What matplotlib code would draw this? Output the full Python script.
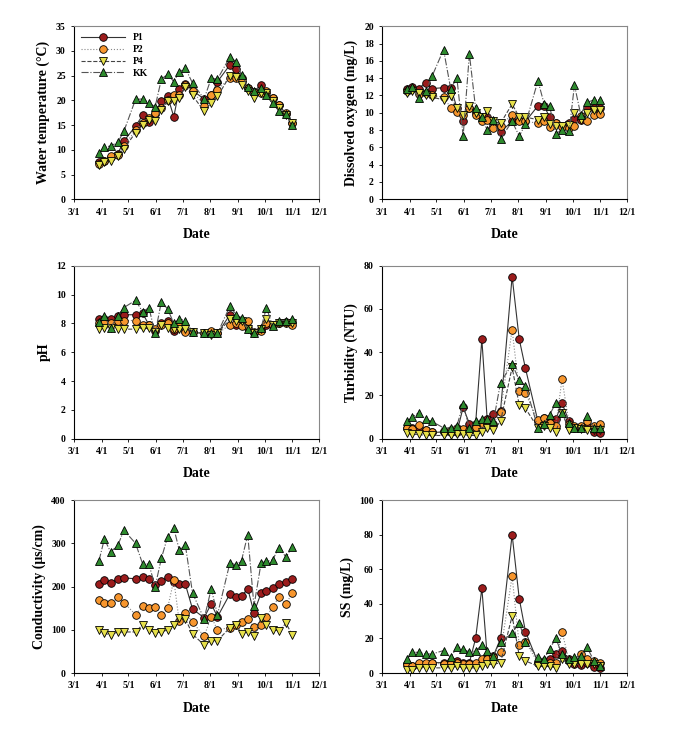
import datetime as dt
import numpy as np
import matplotlib
matplotlib.use("Agg")
import matplotlib.pyplot as plt
import matplotlib.dates as mdates

plt.rcParams['font.family'] = ['Liberation Serif', 'DejaVu Serif']
plt.rcParams['font.weight'] = 'bold'

# sampling dates (month, day)
dates_md = [(3, 29), (4, 4), (4, 11), (4, 19), (4, 26), (5, 9), (5, 17), (5, 24), (5, 31),
            (6, 7), (6, 14), (6, 21), (6, 27), (7, 4), (7, 12), (7, 25), (8, 2), (8, 9),
            (8, 23), (8, 30), (9, 5), (9, 12), (9, 19), (9, 27), (10, 3), (10, 10),
            (10, 17), (10, 25), (11, 1)]
dates = [dt.date(2011, m, d) for m, d in dates_md]

sites = ['P1', 'P2', 'P4', 'KK']

# water temperature
temp_p1 = [7.5, 7.8, 8.5, 9.2, 11.8, 14.8, 17.0, 15.7, 17.3, 19.8, 20.8, 16.7, 22.3, 23.3, 22.0,
           20.3, 21.0, 23.8, 27.2, 26.3, 24.5, 22.5, 21.8, 23.2, 21.5, 20.5, 19.0, 17.3, 15.5]
temp_p2 = [7.2, 7.8, 8.7, 9.0, 10.8, 14.0, 15.5, 16.5, 17.5, 18.5, 20.0, 21.0, 21.0, 23.2, 22.0,
           18.8, 21.0, 22.2, 24.5, 24.5, 24.0, 22.5, 21.8, 21.5, 22.0, 20.5, 19.0, 17.5, 15.5]
temp_p4 = [7.0, 7.5, 7.8, 8.8, 10.2, 13.5, 15.0, 16.0, 15.8, 18.0, 19.8, 19.8, 20.5, 22.8, 21.0,
           17.8, 19.5, 20.8, 25.0, 24.8, 23.2, 22.0, 20.5, 21.5, 21.5, 19.8, 18.5, 17.0, 15.5]
temp_kk = [9.3, 10.5, 10.8, 11.5, 13.8, 20.2, 20.3, 19.5, 18.7, 24.3, 25.3, 23.8, 25.8, 26.5, 23.5,
           20.3, 24.5, 24.3, 28.8, 27.8, 25.2, 22.8, 22.0, 22.5, 21.0, 19.5, 17.8, 17.3, 15.0]

# dissolved oxygen
do_p1 = [12.8, 13.0, 12.8, 13.5, 12.8, 12.9, 12.9, 10.6, 9.1, 10.5, 10.0, 9.5, 9.5, 8.5, 7.8,
         9.0, 9.2, 9.0, 10.8, 10.8, 9.5, 8.8, 8.5, 8.8, 9.3, 9.2, 10.5, 10.6, 10.6]
do_p2 = [12.5, 12.8, 12.2, 12.3, 12.0, 11.8, 10.6, 10.1, 9.8, 10.5, 9.8, 9.0, 9.2, 8.2, 8.5,
         9.8, 9.0, 9.0, 8.8, 9.0, 8.3, 8.8, 8.3, 8.2, 8.5, 9.6, 9.0, 9.8, 9.9]
do_p4 = [12.3, 12.5, 12.3, 12.0, 11.8, 11.5, 11.9, 10.5, 9.8, 10.8, 10.0, 9.5, 10.2, 9.0, 8.8,
         11.0, 9.5, 9.5, 9.2, 9.5, 8.7, 8.5, 8.5, 8.6, 10.0, 9.2, 10.0, 10.3, 10.3]
do_kk = [12.8, 13.0, 11.7, 12.5, 14.2, 17.3, 12.8, 14.0, 7.3, 16.8, 10.5, 9.5, 8.0, 9.2, 7.0,
         9.0, 7.3, 8.7, 13.7, 11.0, 10.8, 7.6, 8.0, 7.9, 13.2, 9.8, 11.2, 11.5, 11.5]

# pH
ph_p1 = [8.3, 8.3, 8.3, 8.5, 8.6, 8.6, 8.7, 7.9, 7.5, 8.0, 8.2, 7.5, 7.8, 7.5, 7.4,
         7.3, 7.4, 7.3, 8.6, 7.9, 8.0, 7.7, 7.3, 7.6, 7.9, 7.9, 8.0, 8.1, 8.1]
ph_p2 = [8.0, 8.0, 8.0, 8.2, 8.2, 8.2, 7.9, 7.9, 7.6, 7.9, 8.0, 7.6, 7.8, 7.4, 7.4,
         7.3, 7.5, 7.3, 7.9, 8.0, 7.8, 8.2, 7.4, 7.5, 8.0, 7.9, 8.0, 8.0, 7.9]
ph_p4 = [7.6, 7.7, 7.7, 7.6, 7.6, 7.6, 7.7, 7.7, 7.4, 7.9, 7.7, 7.6, 7.6, 7.6, 7.4,
         7.3, 7.2, 7.3, 8.3, 8.2, 8.2, 7.6, 7.3, 7.6, 8.3, 7.9, 8.0, 8.0, 8.0]
ph_kk = [8.1, 8.5, 7.7, 8.5, 9.1, 9.6, 8.8, 9.1, 7.3, 9.5, 9.0, 8.0, 8.3, 8.2, 7.4,
         7.3, 7.3, 7.3, 9.2, 8.6, 8.4, 7.6, 7.3, 7.7, 9.1, 7.8, 8.2, 8.2, 8.3]

# turbidity
tu_p1 = [5, 5, 5, 4, 3, 3, 3, 3, 14.5, 7, 7, 46, 9, 11.5, 13, 75, 46, 32.5, 8, 9.5,
         9, 9, 16.5, 8, 5, 5, 6, 3, 2.5]
tu_p2 = [5, 4.5, 6.5, 4, 3, 3.5, 4, 5, 4.5, 4, 5.5, 7.5, 7, 7, 12.5, 50.5, 22, 21, 8.5, 9.5,
         7.5, 6, 27.5, 7, 6, 6, 8, 6, 7]
tu_p4 = [2.5, 2, 2, 1.5, 1.5, 1.5, 1.5, 2, 2, 1.5, 1.5, 3, 5, 4, 8, 33, 15.5, 14, 5, 6,
         5, 3, 12, 4, 5, 4.5, 4, 4, 4]
tu_kk = [8, 10, 12, 9, 8, 5, 5, 6, 16, 5, 8, 9, 9, 8, 26, 34.5, 27, 24.5, 5, 7,
         11, 16.5, 12, 7.5, 5, 5, 10.5, 5, 5]

# conductivity
ec_p1 = [205, 215, 208, 218, 220, 218, 222, 218, 203, 213, 222, 210, 205, 205, 148,
         128, 160, 130, 183, 175, 178, 195, 140, 185, 190, 197, 205, 210, 218]
ec_p2 = [168, 162, 162, 175, 163, 135, 155, 150, 152, 135, 150, 215, 120, 140, 118,
         85, 130, 100, 105, 112, 118, 125, 107, 112, 130, 153, 175, 160, 185]
ec_p4 = [100, 92, 88, 95, 95, 95, 112, 100, 93, 95, 100, 110, 128, 125, 90,
         65, 75, 75, 105, 112, 90, 95, 85, 128, 110, 100, 98, 115, 88]
ec_kk = [260, 310, 280, 295, 330, 300, 252, 252, 200, 265, 315, 335, 285, 295, 185,
         125, 195, 135, 255, 250, 260, 320, 155, 255, 258, 262, 290, 268, 292]

# suspended solids
ss_p1 = [5, 4, 5, 5, 6, 6, 7, 7, 6, 6, 20, 49, 10, 10, 20, 80, 43, 24, 6, 7,
         8, 11, 13, 8, 5, 4.5, 6, 3.5, 3]
ss_p2 = [5, 4, 6, 6, 6, 5, 6, 6, 5, 5, 6, 8, 8, 9, 12, 56, 16, 18, 6, 6,
         6, 6, 24, 7, 7, 11, 8, 7, 6]
ss_p4 = [2, 2, 3, 3, 3, 3, 3, 4, 3, 3, 3, 4, 5, 5, 6, 33, 10, 7, 4, 4,
         4, 3, 8, 5, 5, 5, 5, 5, 4]
ss_kk = [8, 12, 12, 11, 11, 13, 9, 15, 14, 12, 13, 16, 13, 10, 18, 23, 29, 18, 9, 8,
         14, 20, 11, 8, 9, 10, 15, 7, 4]

panels = [
    ('Water temperature (\u00b0C)', 35, 5, [temp_p1, temp_p2, temp_p4, temp_kk]),
    ('Dissolved oxygen (mg/L)', 20, 2, [do_p1, do_p2, do_p4, do_kk]),
    ('pH', 12, 2, [ph_p1, ph_p2, ph_p4, ph_kk]),
    ('Turbidity (NTU)', 80, 20, [tu_p1, tu_p2, tu_p4, tu_kk]),
    ('Conductivity (\u03bcs/cm)', 400, 100, [ec_p1, ec_p2, ec_p4, ec_kk]),
    ('SS (mg/L)', 100, 20, [ss_p1, ss_p2, ss_p4, ss_kk]),
]

styles = {
    'P1': dict(color='#333333', ls='-', marker='o', mfc='#9b1c1c', ms=5.5),
    'P2': dict(color='#888888', ls=':', marker='o', mfc='#f7962e', ms=5.5),
    'P4': dict(color='#444444', ls='--', marker='v', mfc='#e6e04a', ms=5.5),
    'KK': dict(color='#555555', ls='-.', marker='^', mfc='#2e8b2e', ms=5.5),
}

fig = plt.figure(figsize=(6.86, 7.3), dpi=100)
lefts = [0.108, 0.557]
bottoms = [0.727, 0.399, 0.078]
months = [dt.date(2011, m, 1) for m in range(3, 13)]

for i, (label, ymax, ystep, series) in enumerate(panels):
    ax = fig.add_axes([lefts[i % 2], bottoms[i // 2], 0.357, 0.237])
    for name, vals in zip(sites, series):
        st = styles[name]
        ax.plot(dates, vals, color=st['color'], ls=st['ls'], lw=0.8, marker=st['marker'],
                mfc=st['mfc'], mec='black', mew=0.6, ms=st['ms'], label=name)
    ax.set_xlim(months[0], months[-1])
    ax.set_xticks(months)
    ax.set_xticklabels([f'{d.month}/{d.day}' for d in months])
    ax.set_ylim(0, ymax)
    ax.set_yticks(np.arange(0, ymax + ystep / 2, ystep))
    ax.tick_params(labelsize=7, length=2.5, width=0.6, direction='out')
    for s in ax.spines.values():
        s.set_color('#888888')
        s.set_linewidth(0.8)
    ax.spines['left'].set_color('black')
    ax.spines['bottom'].set_color('black')
    ax.set_ylabel(label, fontsize=10, fontweight='bold')
    ax.set_xlabel('Date', fontsize=10, fontweight='bold', labelpad=8)
    if i == 0:
        ax.legend(loc='upper left', frameon=False, fontsize=7, handlelength=4.5,
                  borderaxespad=0.3, labelspacing=0.3)

fig.savefig('out.png', dpi=100, facecolor='white')
